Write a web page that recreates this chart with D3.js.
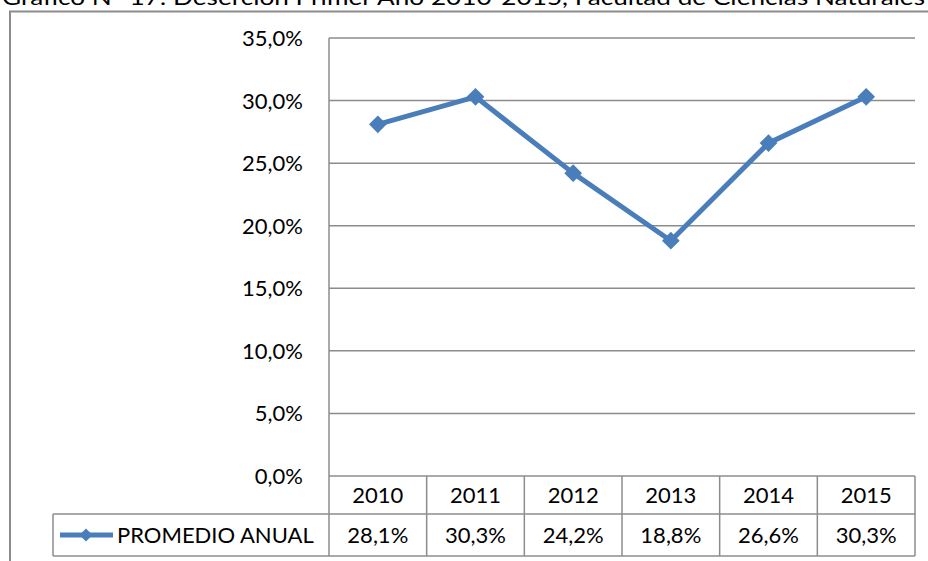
<!DOCTYPE html>
<html>
<head>
<meta charset="utf-8">
<script src="https://cdn.jsdelivr.net/npm/d3@7"></script>
<style>
  body { margin: 0; background: #fff; }
  svg { display: block; font-family: Lato, "Open Sans", sans-serif; }
</style>
</head>
<body>
<script>
// data
var years = ["2010", "2011", "2012", "2013", "2014", "2015"];
var promedio = [0.281, 0.303, 0.242, 0.188, 0.266, 0.303];
var yTicks = [0, 0.05, 0.10, 0.15, 0.20, 0.25, 0.30, 0.35];
var seriesName = "PROMEDIO ANUAL";
var title = "Gráfico N° 17: Deserción Primer Año 2010-2015, Facultad de Ciencias Naturales";

var width = 928, height = 561;
var blue = "#4a7ebb", grey = "#8c8c8c";
var fmt = function(v) { return d3.format(".1f")(v * 100).replace(".", ",") + "%"; };

var svg = d3.select("body").append("svg")
  .attr("width", width)
  .attr("height", height);

// title (cut off at the top in the original)
svg.append("text")
  .attr("x", 2)
  .attr("y", 5)
  .attr("textLength", 923)
  .attr("lengthAdjust", "spacingAndGlyphs")
  .style("font-size", "22px")
  .style("fill", "#000")
  .text(title);

// outer chart border (runs off the bottom and right)
svg.append("path")
  .attr("d", "M10," + (height + 5) + " V11.5 H" + (width + 5))
  .attr("fill", "none")
  .attr("stroke", grey)
  .attr("stroke-width", 2);

// scales
var x = d3.scaleBand().domain(years).range([329, 915]);
var y = d3.scaleLinear().domain([0, 0.35]).range([476, 38]);

// gridlines
svg.append("g").selectAll("line")
  .data(yTicks.slice(1))
  .join("line")
  .attr("x1", 329).attr("x2", 915)
  .attr("y1", function(d) { return y(d); })
  .attr("y2", function(d) { return y(d); })
  .attr("stroke", grey)
  .attr("stroke-width", 1.5);

// y axis line
svg.append("line")
  .attr("x1", 329).attr("x2", 329)
  .attr("y1", y(0.35)).attr("y2", y(0))
  .attr("stroke", grey)
  .attr("stroke-width", 1.5);

// y tick labels
svg.append("g").selectAll("text")
  .data(yTicks)
  .join("text")
  .attr("x", 303)
  .attr("y", function(d) { return y(d) + 8; })
  .attr("text-anchor", "end")
  .style("font-size", "22px")
  .text(fmt);

// data table under the plot
var rowTop = 476, rowMid = 514, rowBot = 556, legendLeft = 53;
var table = svg.append("g")
  .attr("fill", "none")
  .attr("stroke", grey)
  .attr("stroke-width", 1.5);
table.append("line").attr("x1", 329).attr("x2", 915).attr("y1", rowTop).attr("y2", rowTop);
table.append("line").attr("x1", legendLeft).attr("x2", 915).attr("y1", rowMid).attr("y2", rowMid);
table.append("line").attr("x1", legendLeft).attr("x2", 915).attr("y1", rowBot).attr("y2", rowBot);
table.append("line").attr("x1", legendLeft).attr("x2", legendLeft).attr("y1", rowMid).attr("y2", rowBot);
table.selectAll("line.col")
  .data(years.map(function(d) { return x(d); }).concat([915]))
  .join("line")
  .attr("class", "col")
  .attr("x1", function(d) { return d; })
  .attr("x2", function(d) { return d; })
  .attr("y1", rowTop)
  .attr("y2", rowBot);

svg.append("g").selectAll("text")
  .data(years)
  .join("text")
  .attr("x", function(d) { return x(d) + x.bandwidth() / 2; })
  .attr("y", 503)
  .attr("text-anchor", "middle")
  .style("font-size", "22px")
  .text(function(d) { return d; });

svg.append("g").selectAll("text")
  .data(promedio)
  .join("text")
  .attr("x", function(d, i) { return x(years[i]) + x.bandwidth() / 2; })
  .attr("y", 543)
  .attr("text-anchor", "middle")
  .style("font-size", "22px")
  .text(fmt);

// legend key in the table
var diamond = d3.symbol().type(d3.symbolDiamond2).size(200);
svg.append("line")
  .attr("x1", 60).attr("x2", 113)
  .attr("y1", 535).attr("y2", 535)
  .attr("stroke", blue)
  .attr("stroke-width", 5);
svg.append("path")
  .attr("d", d3.symbol().type(d3.symbolDiamond2).size(110)())
  .attr("transform", "translate(86,535)")
  .attr("fill", blue);
svg.append("text")
  .attr("x", 117)
  .attr("y", 543)
  .style("font-size", "22px")
  .text(seriesName);

// series line and markers
var line = d3.line()
  .x(function(d, i) { return x(years[i]) + x.bandwidth() / 2; })
  .y(function(d) { return y(d); });

svg.append("path")
  .datum(promedio)
  .attr("d", line)
  .attr("fill", "none")
  .attr("stroke", blue)
  .attr("stroke-width", 5)
  .attr("stroke-linejoin", "round");

svg.append("g").selectAll("path")
  .data(promedio)
  .join("path")
  .attr("d", diamond)
  .attr("transform", function(d, i) {
    return "translate(" + (x(years[i]) + x.bandwidth() / 2) + "," + y(d) + ")";
  })
  .attr("fill", blue);
</script>
</body>
</html>
